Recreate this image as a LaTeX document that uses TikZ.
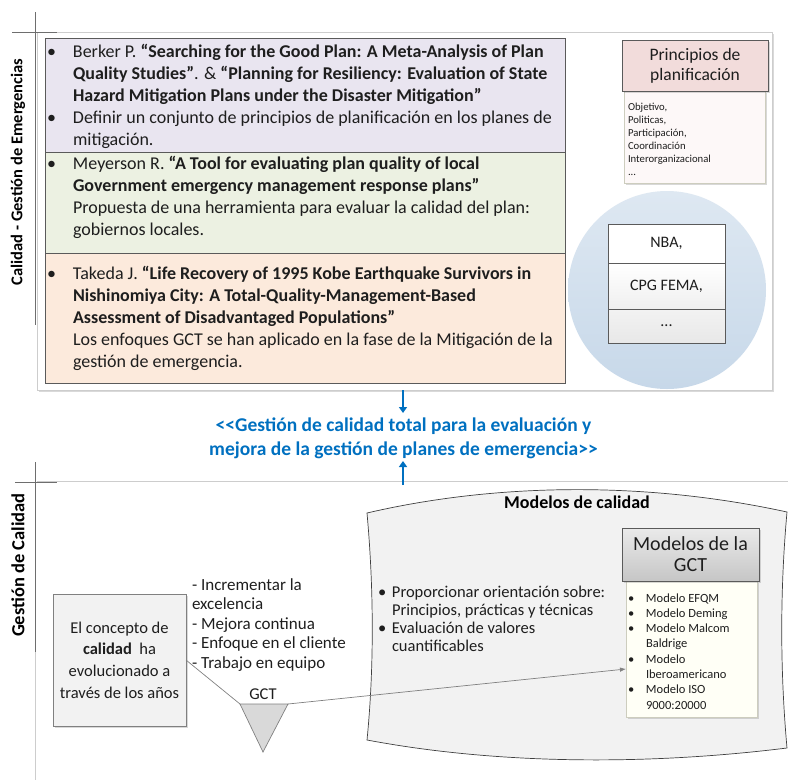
\documentclass[tikz,border=0pt]{standalone}
\usepackage{fontspec}
\setmainfont{Carlito}
\usetikzlibrary{shadows,arrows.meta,calc}

\definecolor{inkgray}{RGB}{30,30,30}
\definecolor{framegray}{RGB}{205,205,205}
\definecolor{axisgray}{RGB}{110,110,110}
\definecolor{edgegray}{RGB}{90,90,90}
\definecolor{lavender}{RGB}{233,229,240}
\definecolor{sage}{RGB}{236,241,226}
\definecolor{peach}{RGB}{252,234,220}
\definecolor{rosehead}{RGB}{242,220,219}
\definecolor{roselist}{RGB}{253,248,248}
\definecolor{bubbletop}{RGB}{222,232,242}
\definecolor{bubblebot}{RGB}{199,216,233}
\definecolor{linkblue}{RGB}{0,112,192}
\definecolor{panelgray}{RGB}{242,242,242}
\definecolor{headtop}{RGB}{234,234,234}
\definecolor{headbot}{RGB}{198,198,198}
\definecolor{cream}{RGB}{255,255,246}
\definecolor{creamedge}{RGB}{205,205,190}
\definecolor{wedge}{RGB}{217,217,217}
\definecolor{linkgray}{RGB}{128,128,128}

\newcommand\setfs[2]{\fontsize{#1}{#2}\selectfont}
\newcommand\itembul[1]{\makebox[#1][l]{\textbullet}}

\begin{document}
\begin{tikzpicture}[x=1pt,y=-1pt,
  every node/.style={inner sep=0pt,outer sep=0pt,text=inkgray},
  sized/.style 2 args={minimum width=#1,minimum height=#2},
  softshadow/.style={drop shadow={shadow xshift=2pt,shadow yshift=-2pt,opacity=0.3}},
  frame/.style={draw=framegray,line width=0.8pt,fill=white,softshadow},
  refbox/.style={draw=edgegray,line width=0.9pt},
  body/.style={anchor=base west,font=\setfs{18}{22}},
  axis/.style={draw=axisgray,line width=0.8pt},
  faint/.style={draw=framegray,line width=0.8pt},
  sidelabel/.style={rotate=90,font=\setfs{#1}{24}\bfseries,text=black},
  cell/.style={draw=edgegray,line width=0.8pt,font=\setfs{16}{19}},
  bluearrow/.style={draw=linkblue,line width=2.2pt,-{Triangle[length=6pt,width=8pt]}},
  conn/.style={draw=linkgray,line width=0.7pt},
]
\useasboundingbox (0,0) rectangle (788,780);

% ---------- upper section: quality in emergency management ----------
\node[frame,sized={735pt}{358pt}] (topframe) at (404.5,211) {};
\draw[axis] (35,12) -- (35,325);
\draw[axis] (12,32) -- (57,32);
\node[sidelabel=16.5] (lab1) at (18,172) {Calidad - Gestión de Emergencias};

\node[refbox,fill=lavender,sized={520pt}{114pt}] (ref1) at (305,95) {};
\node[refbox,fill=sage,sized={520pt}{101pt}] (ref2) at (305,202.5) {};
\node[refbox,fill=peach,sized={520pt}{130pt}] (ref3) at (305,318) {};

\node[body] (txt1) at (47,57) {\begin{tabular}[t]{@{}l@{}}
\itembul{26pt}Berker P. \textbf{“Searching for the Good Plan: A Meta-Analysis of Plan}\\
\hspace*{26pt}\textbf{Quality Studies”}. \& \textbf{“Planning for Resiliency: Evaluation of State}\\
\hspace*{26pt}\textbf{Hazard Mitigation Plans under the Disaster Mitigation”}\\
\itembul{26pt}Definir un conjunto de principios de planificación en los planes de\\
\hspace*{26pt}mitigación.
\end{tabular}};

\node[body] (txt2) at (47,169) {\begin{tabular}[t]{@{}l@{}}
\itembul{26pt}Meyerson R. \textbf{“A Tool for evaluating plan quality of local}\\
\hspace*{26pt}\textbf{Government emergency management response plans”}\\
\hspace*{26pt}Propuesta de una herramienta para evaluar la calidad del plan:\\
\hspace*{26pt}gobiernos locales.
\end{tabular}};

\node[body] (txt3) at (47,279) {\begin{tabular}[t]{@{}l@{}}
\itembul{26pt}Takeda J. \textbf{“Life Recovery of 1995 Kobe Earthquake Survivors in}\\
\hspace*{26pt}\textbf{Nishinomiya City: A Total-Quality-Management-Based}\\
\hspace*{26pt}\textbf{Assessment of Disadvantaged Populations”}\\
\hspace*{26pt}Los enfoques GCT se han aplicado en la fase de la Mitigación de la\\
\hspace*{26pt}gestión de emergencia.
\end{tabular}};

% planning principles card
\node[draw=creamedge,fill=roselist,line width=0.7pt,softshadow,sized={141pt}{92pt}] (prinlist) at (694.5,137) {};
\node[draw=edgegray,fill=rosehead,line width=0.8pt,softshadow,sized={146pt}{51pt},
      align=center,font=\setfs{17.5}{20}] (prinhead) at (695,65.5)
      {Principios de\\planificación};
\node[anchor=base west,font=\setfs{10.7}{13}] (prinitems) at (628,110) {\begin{tabular}[t]{@{}l@{}}
Objetivo,\\ Politicas,\\ Participación,\\ Coordinación\\ Interorganizacional\\ ...
\end{tabular}};

% guidelines bubble
\node[circle,top color=bubbletop,bottom color=bubblebot,sized={198pt}{198pt}] (bubble) at (667,290) {};
\node[cell,fill=white,sized={117pt}{39pt}] (nba) at (666.5,243.5) {NBA,};
\node[cell,top color=white,bottom color=black!6,sized={117pt}{46pt}] (cpg) at (666.5,286) {CPG FEMA,};
\node[cell,top color=black!5,bottom color=black!9,sized={117pt}{34pt}] (more) at (666.5,326) {...};

% ---------- central statement ----------
\node[anchor=base,font=\setfs{19.5}{24}\bfseries] (title) at (403.5,431)
  {\color{linkblue}\begin{tabular}[t]{@{}c@{}}
  <{}<Gestión de calidad total para la evaluación y\\
  mejora de la gestión de planes de emergencia>{}>
  \end{tabular}};
\coordinate (downstart) at (403,390);
\coordinate (downend) at (403,413);
\coordinate (upstart) at (403,485);
\coordinate (upend) at (403,461);
\draw[bluearrow] (downstart) -- (downend);

% ---------- lower section: quality management ----------
\draw[faint] (37,481) -- (788,481);
\draw[bluearrow] (upstart) -- (upend);
\draw[axis] (35,462) -- (35,652);
\draw[faint] (35,652) -- (35,780);
\draw[axis] (15,482) -- (57,482);
\node[sidelabel=18.5] (lab2) at (18,565) {Gestión de Calidad};

% quality models panel with curved edges
\draw[draw=black!75,line width=0.7pt,fill=panelgray]
  (367,513) .. controls (500,482) and (650,482) .. (787,512)
  .. controls (780,590) and (780,670) .. (787,748)
  .. controls (650,765) and (500,765) .. (367,740)
  .. controls (374,670) and (374,590) .. cycle;
\node[anchor=base,font=\setfs{18}{22}\bfseries,text=black] (mctitle) at (577,508) {Modelos de calidad};
\node[anchor=base west,font=\setfs{16.5}{18.3}] (mcpoints) at (378,597) {\begin{tabular}[t]{@{}l@{}}
\itembul{14pt}Proporcionar orientación sobre:\\
\hspace*{14pt}Principios, prácticas y técnicas\\
\itembul{14pt}Evaluación de valores\\
\hspace*{14pt}cuantificables
\end{tabular}};

% TQM models card
\node[draw=creamedge,fill=cream,line width=0.7pt,softshadow,sized={131pt}{136pt}] (gctlist) at (691.5,649) {};
\node[draw=edgegray,top color=headtop,bottom color=headbot,line width=0.8pt,softshadow,
      sized={137pt}{53pt},align=center,font=\setfs{20}{21}] (gcthead) at (690.5,554.5)
      {Modelos de la\\GCT};
\node[anchor=base west,font=\setfs{12.5}{15.3}] (gctitems) at (628,602) {\begin{tabular}[t]{@{}l@{}}
\itembul{18pt}Modelo EFQM\\
\itembul{18pt}Modelo Deming\\
\itembul{18pt}Modelo Malcom\\
\hspace*{18pt}Baldrige\\
\itembul{18pt}Modelo\\
\hspace*{18pt}Iberoamericano\\
\itembul{18pt}Modelo ISO\\
\hspace*{18pt}9000:20000
\end{tabular}};

% concept of quality and its drivers
\node[draw=linkgray,fill=panelgray,line width=0.8pt,softshadow,sized={133pt}{132pt}] (concept) at (119.5,660) {};
\node[anchor=base,font=\setfs{16.5}{21.7}] (concepttext) at (119.5,633) {\begin{tabular}[t]{@{}c@{}}
El concepto de\\ \textbf{calidad}\ \ ha\\ evolucionado a\\ través de los años
\end{tabular}};
\node[anchor=base west,font=\setfs{17}{19.5}] (drivers) at (192,590) {\begin{tabular}[t]{@{}l@{}}
- Incrementar la\\ excelencia\\ - Mejora continua\\ - Enfoque en el cliente\\ - Trabajo en equipo
\end{tabular}};

% TQM funnel
\node[anchor=base,font=\setfs{16.5}{20}] (gctlabel) at (263,699) {GCT};
\coordinate (funnelL) at (240,704);
\coordinate (funnelR) at (288,704);
\coordinate (funnelB) at (263,752);
\draw[draw=linkgray,fill=wedge,line width=0.7pt] (funnelL) -- (funnelR) -- (funnelB) -- cycle;

\draw[conn] (concept.east) -- (funnelL);
\draw[conn,-{Latex[length=6pt,width=4.5pt]}] (funnelR) -- ($(gctlist.south west)!0.353!(gctlist.north west)$);
\end{tikzpicture}
\end{document}
